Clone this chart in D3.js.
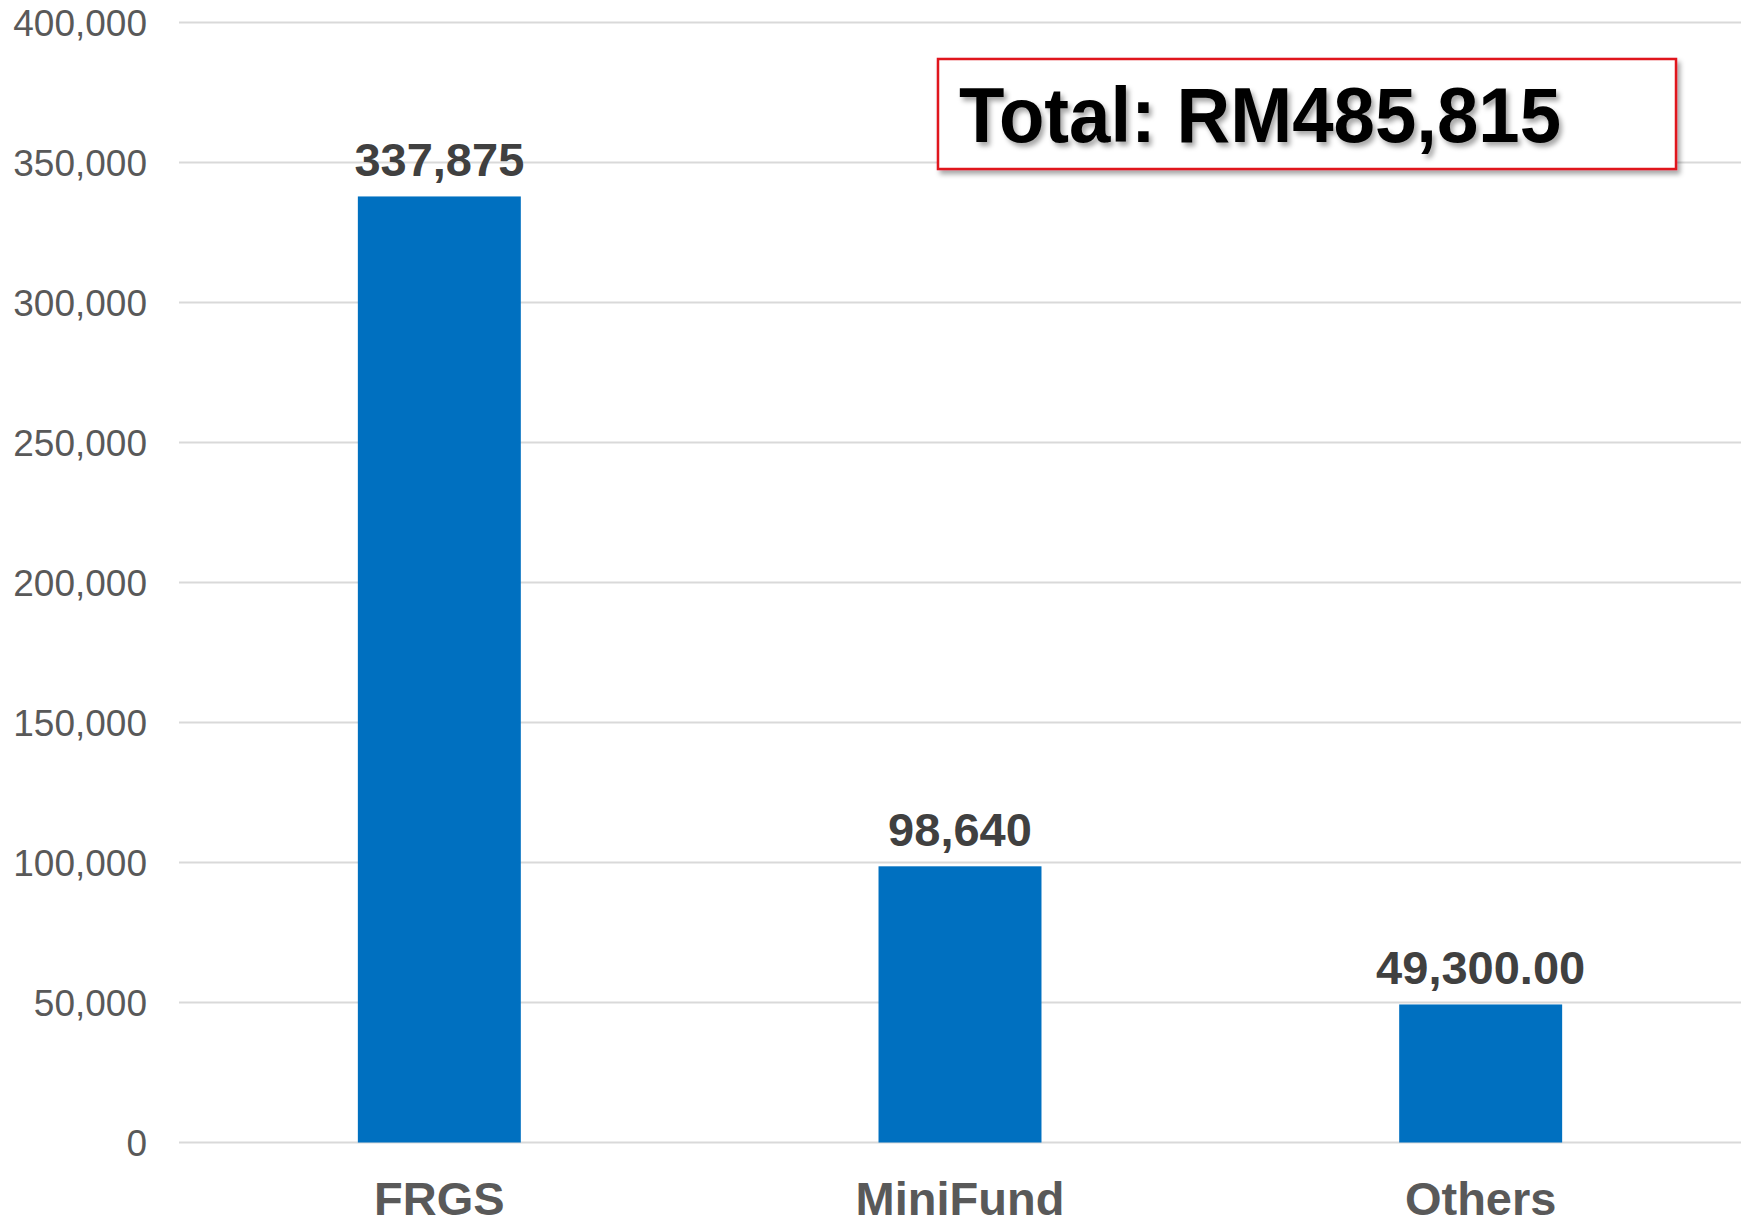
<!DOCTYPE html>
<html lang="en">
<head>
  <meta charset="UTF-8">
  <title>Funding</title>
<script src="https://cdn.jsdelivr.net/npm/d3@7"></script>
<style>
  body { margin: 0; background: #fff; }
  text { font-family: "Liberation Sans", Arial, Helvetica, sans-serif; }
  .grid line { stroke: #d9d9d9; stroke-width: 2px; }
</style>
</head>
<body>
<div id="chart"></div>
<script>
// data
var categories = ["FRGS", "MiniFund", "Others"];
var amounts = [337875, 98640, 49300];
var valueLabels = ["337,875", "98,640", "49,300.00"];
var yTicks = [0, 50000, 100000, 150000, 200000, 250000, 300000, 350000, 400000];
var totalLabel = "Total: RM485,815";

var width = 1752, height = 1220;
var margin = {top: 22.5, right: 11, bottom: 77.5, left: 179};

var svg = d3.select("#chart").append("svg")
    .attr("width", width)
    .attr("height", height);

var defs = svg.append("defs");
var shadow = defs.append("filter").attr("id", "shadow")
    .attr("x", "-10%").attr("y", "-10%").attr("width", "120%").attr("height", "140%");
shadow.append("feDropShadow")
    .attr("dx", 3).attr("dy", 4).attr("stdDeviation", 2.5)
    .attr("flood-color", "#000").attr("flood-opacity", 0.35);

var x = d3.scaleBand()
    .domain(categories)
    .range([margin.left, width - margin.right])
    .paddingInner(0.687)
    .paddingOuter(0.687 / 2);

var y = d3.scaleLinear()
    .domain([0, 400000])
    .range([height - margin.bottom, margin.top]);

// gridlines
svg.append("g").attr("class", "grid")
  .selectAll("line")
  .data(yTicks)
  .enter().append("line")
    .attr("x1", margin.left)
    .attr("x2", width - margin.right)
    .attr("y1", function(d) { return y(d); })
    .attr("y2", function(d) { return y(d); });

// y axis labels
var yAxis = d3.axisLeft(y)
    .tickValues(yTicks)
    .tickSize(0)
    .tickPadding(32)
    .tickFormat(d3.format(","));

svg.append("g")
    .attr("transform", "translate(" + margin.left + ",0)")
    .call(yAxis)
    .call(function(g) { g.select(".domain").remove(); })
    .selectAll("text")
      .attr("fill", "#595959")
      .style("font-size", "37px")
      .attr("dy", "0.35em");

// bars
svg.selectAll(".bar")
  .data(amounts)
  .enter().append("rect")
    .attr("class", "bar")
    .attr("x", function(d, i) { return x(categories[i]); })
    .attr("width", x.bandwidth())
    .attr("y", function(d) { return y(d); })
    .attr("height", function(d) { return y(0) - y(d); })
    .attr("fill", "#0070c0");

// value labels
svg.selectAll(".val")
  .data(amounts)
  .enter().append("text")
    .attr("class", "val")
    .attr("x", function(d, i) { return x(categories[i]) + x.bandwidth() / 2; })
    .attr("y", function(d) { return y(d) - 20; })
    .attr("text-anchor", "middle")
    .attr("fill", "#404040")
    .style("font-size", "47px")
    .style("font-weight", "bold")
    .text(function(d, i) { return valueLabels[i]; });

// category labels
var xAxis = d3.axisBottom(x).tickSize(0).tickPadding(0);
svg.append("g")
    .attr("transform", "translate(0," + y(0) + ")")
    .call(xAxis)
    .call(function(g) { g.select(".domain").remove(); })
    .selectAll("text")
      .attr("fill", "#595959")
      .attr("y", 72)
      .attr("dy", 0)
      .style("font-size", "47px")
      .style("font-weight", "bold");

// total box
var box = svg.append("g");
box.append("rect")
    .attr("x", 938).attr("y", 59)
    .attr("width", 738).attr("height", 110)
    .attr("fill", "#fff")
    .attr("stroke", "#e0141e")
    .attr("stroke-width", 2.5)
    .attr("filter", "url(#shadow)");

box.append("text")
    .attr("x", 959).attr("y", 142)
    .attr("fill", "#000")
    .style("font-size", "78px")
    .style("font-weight", "bold")
    .attr("textLength", 602)
    .attr("lengthAdjust", "spacingAndGlyphs")
    .attr("filter", "url(#shadow)")
    .text(totalLabel);
</script>
</body>
</html>
